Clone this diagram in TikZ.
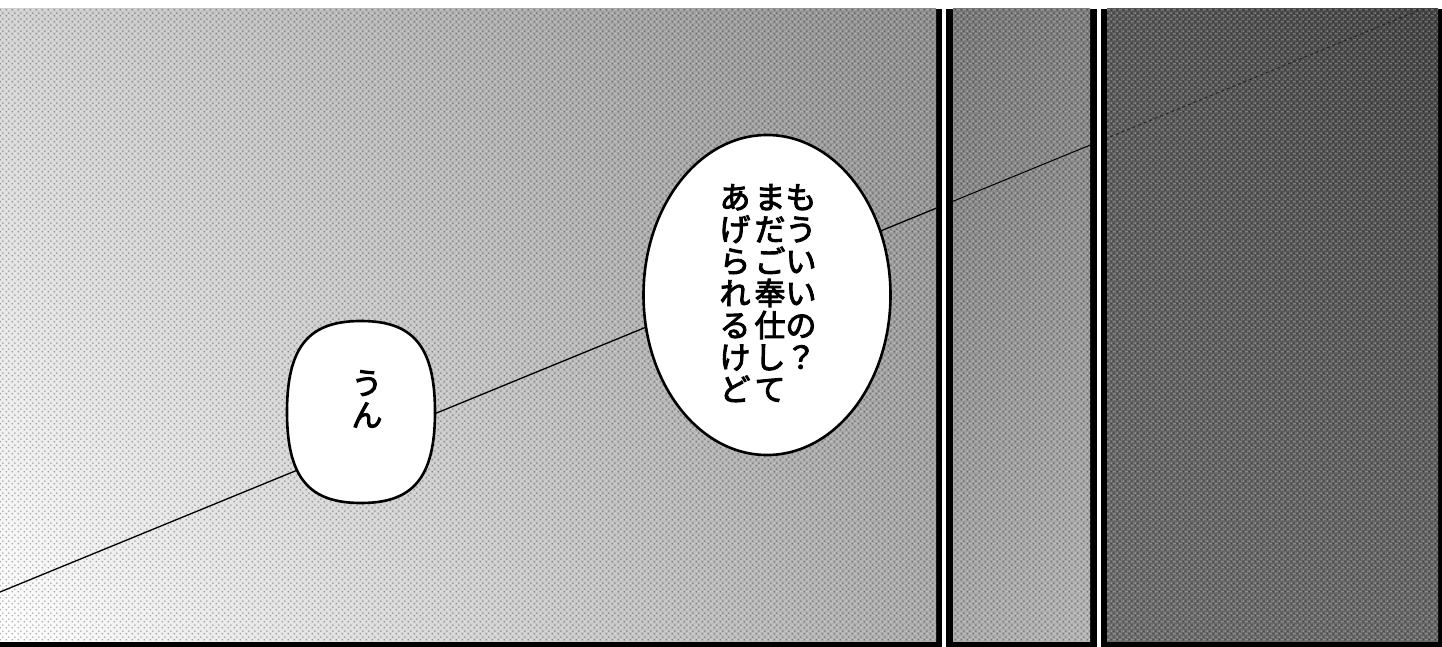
\documentclass[tikz,border=0pt]{standalone}
\usepackage{fontspec}
\newfontfamily\jp[FakeBold=3]{Noto Sans CJK JP}
\usetikzlibrary{shadings,shapes.geometric,patterns.meta}
\newcommand\vcol[1]{\parbox[t]{31pt}{\centering #1}}
\pgfdeclarepattern{name=halftone, type=colored,
  bottom left={\pgfpoint{0pt}{0pt}}, top right={\pgfpoint{6pt}{6pt}},
  tile size={\pgfpoint{6pt}{6pt}},
  code={
    \pgfsetfillcolor{black}\pgfpathcircle{\pgfpoint{1.5pt}{1.5pt}}{1.1pt}\pgfusepath{fill}
    \pgfsetfillcolor{black}\pgfpathcircle{\pgfpoint{4.5pt}{4.5pt}}{1.1pt}\pgfusepath{fill}
    \pgfsetfillcolor{white}\pgfpathcircle{\pgfpoint{4.5pt}{1.5pt}}{1.1pt}\pgfusepath{fill}
    \pgfsetfillcolor{white}\pgfpathcircle{\pgfpoint{1.5pt}{4.5pt}}{1.1pt}\pgfusepath{fill}
  }}
\begin{document}
\begin{tikzpicture}[x=1pt,y=-1pt,
  bubble/.style={draw=black,line width=2.6pt,fill=white,inner sep=0pt},
  vtext/.style={font=\jp\fontsize{31}{32}\selectfont, align=center, inner sep=0pt, anchor=north},
  frame/.style={fill=black},
  grain/.style={pattern=halftone, opacity=0.3},
  ray/.style={draw=black,line width=1.3pt}]
\useasboundingbox (0,0) rectangle (1442,647);
\fill[white] (0,0) rectangle (1442,647);
% panel frames
\fill[frame] (0,9) rectangle (942,647);
\fill[frame] (946,9) rectangle (1097,647);
\fill[frame] (1101,9) rectangle (1442,647);
% screen tones
\shade[upper left=black!18, upper right=black!46, lower left=white, lower right=black!34]
  (0,9) rectangle (936,641);
\shade[upper left=black!54, upper right=black!52, lower left=black!34, lower right=black!30]
  (953,9) rectangle (1090,641);
\shade[upper left=black!66, upper right=black!74, lower left=black!58, lower right=black!60]
  (1107,9) rectangle (1438,641);
% dot grain of the screen tones
\fill[grain] (0,9) rectangle (936,641);
\fill[grain] (953,9) rectangle (1090,641);
\fill[grain] (1107,9) rectangle (1438,641);
% the long line
\coordinate (L0) at (0,592);
\coordinate (L1) at (1422,9);
\begin{scope}
  \clip (0,9) rectangle (936,641);
  \draw[ray] (L0) -- (L1);
\end{scope}
\begin{scope}
  \clip (953,9) rectangle (1090,641);
  \draw[ray,line width=1pt] (L0) -- (L1);
\end{scope}
\begin{scope}
  \clip (1107,9) rectangle (1438,641);
  \draw[ray,line width=1pt,draw=black!85,dashed] (L0) -- (L1);
\end{scope}
% bubbles
\node[bubble, ellipse, minimum width=247pt, minimum height=320pt] (b1) at (767,295) {};
\coordinate (b2) at (361,412);
\draw[bubble] (435,412)
  .. controls (435,345) and (412,321) .. (361,321)
  .. controls (310,321) and (287,345) .. (287,412)
  .. controls (287,479) and (310,503) .. (361,503)
  .. controls (412,503) and (435,479) .. cycle;
% texts (vertical, columns read right to left)
\node[vtext] (t1) at (768,184) {\vcol{あ\\げ\\ら\\れ\\る\\け\\ど}\hspace{4pt}\vcol{ま\\だ\\ご\\奉\\仕\\し\\て}\vcol{も\\う\\い\\い\\の\\？}};
\node[vtext] (t2) at (367,370) {う\\ん};
\end{tikzpicture}
\end{document}
